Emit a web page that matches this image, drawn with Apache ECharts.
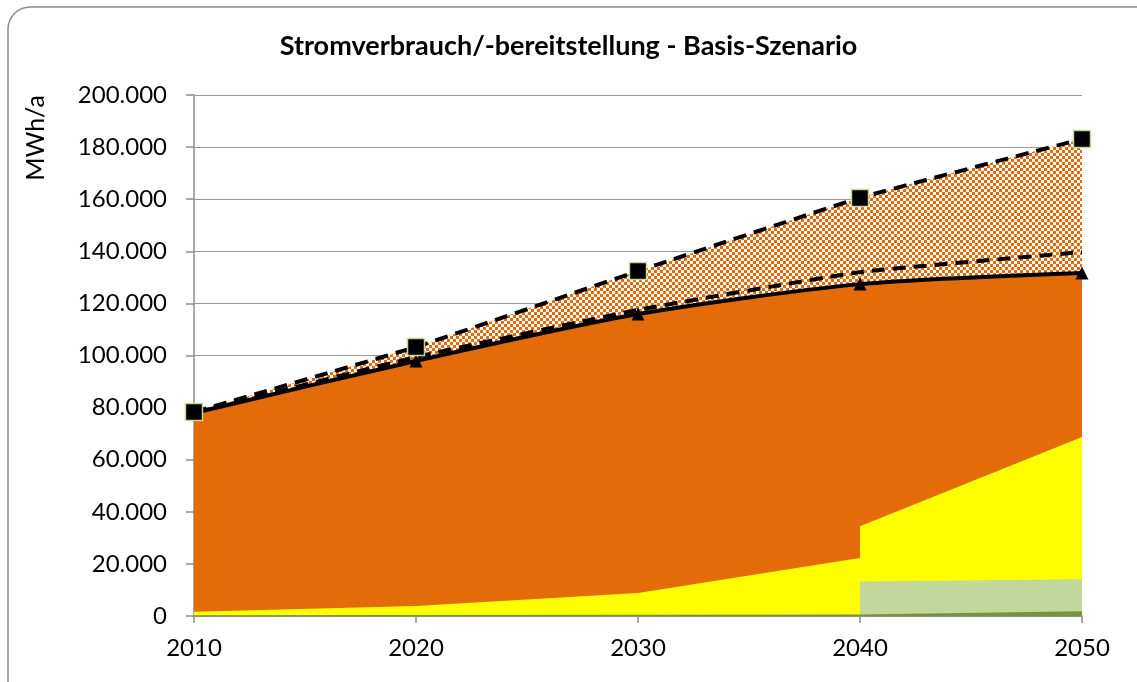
<!DOCTYPE html>
<html>
<head>
<meta charset="utf-8">
<title>Stromverbrauch/-bereitstellung - Basis-Szenario</title>
<script src="https://cdn.jsdelivr.net/npm/echarts@6/dist/echarts.min.js"></script>
<style>
  html, body { margin: 0; padding: 0; background: #fff; }
  #chart { width: 1137px; height: 682px; }
</style>
</head>
<body>
<div id="chart"></div>
<script>
// Years for the stacked sources (2040 appears twice because of the step)
const sourceYears = [2010, 2020, 2030, 2040, 2040, 2050]
const darkGreen = [300, 400, 500, 600, 600, 1800]
const lightGreen = [null, null, null, 0, 12600, 12300]
const yellow = [1300, 3400, 8300, 21700, 21300, 54600]

// Lines
const lineYears = [2010, 2020, 2030, 2040, 2050]
const demandSolid = [77900, 97900, 115900, 127400, 131700]
const demandDashed = [78000, 99400, 117500, 132000, 139700]
const demandUpper = [78300, 103300, 132400, 160500, 183100]

const yTicks = [0, 20000, 40000, 60000, 80000, 100000, 120000, 140000, 160000, 180000, 200000]

const ORANGE = '#e36c09'
const FONT = 'Lato'

// cumulative tops for the bottom areas
const darkTop = darkGreen.slice()
const lightTop = lightGreen.map((v, i) => darkGreen[i] + (v || 0))
const yellowTop = yellow.map((v, i) => lightTop[i] + v)

function pairs(xs, ys) {
  return xs.map((x, i) => [x, ys[i]])
}

// checker pattern for the upper band
function makePattern() {
  const c = document.createElement('canvas')
  c.width = 6
  c.height = 6
  const ctx = c.getContext('2d')
  ctx.fillStyle = '#ffffff'
  ctx.fillRect(0, 0, 6, 6)
  ctx.fillStyle = ORANGE
  ctx.fillRect(0, 0, 3, 3)
  ctx.fillRect(3, 3, 3, 3)
  return c
}

function fmtThousands(v) {
  return String(v).replace(/\B(?=(\d{3})+(?!\d))/g, '.')
}

const chart = echarts.init(document.getElementById('chart'))

const areaBase = {
  type: 'line',
  symbol: 'none',
  lineStyle: { width: 0 },
  silent: true,
  z: 1
}

const option = {
  animation: false,
  backgroundColor: '#fff',
  title: {
    text: 'Stromverbrauch/-bereitstellung - Basis-Szenario',
    left: 'center',
    top: 28,
    textStyle: { fontFamily: FONT, fontSize: 27, fontWeight: 'bold', color: '#000' }
  },
  graphic: [
    {
      type: 'rect',
      shape: { x: 8, y: 7, width: 1160, height: 700, r: 22 },
      style: { fill: 'none', stroke: '#8c8c8c', lineWidth: 1.5 },
      z: -10
    },
    {
      type: 'text',
      x: 36,
      y: 138,
      rotation: Math.PI / 2,
      style: {
        text: 'MWh/a',
        fontFamily: FONT,
        fontSize: 25,
        fill: '#000',
        textAlign: 'center',
        textVerticalAlign: 'middle'
      }
    }
  ],
  grid: { left: 194, right: 55, top: 95, bottom: 66 },
  xAxis: {
    type: 'value',
    min: 2010,
    max: 2050,
    interval: 10,
    axisLine: { lineStyle: { color: '#8c8c8c', width: 1.5 } },
    axisTick: { show: true, length: 7, lineStyle: { color: '#8c8c8c', width: 1.5 } },
    splitLine: { show: false },
    axisLabel: {
      margin: 20,
      fontFamily: FONT,
      fontSize: 24,
      color: '#000',
      formatter: v => String(v)
    }
  },
  yAxis: {
    type: 'value',
    min: yTicks[0],
    max: yTicks[yTicks.length - 1],
    interval: 20000,
    axisLine: { show: true, lineStyle: { color: '#8c8c8c', width: 1.5 } },
    axisTick: { show: true, length: 8, lineStyle: { color: '#8c8c8c', width: 1.5 } },
    splitLine: { show: true, lineStyle: { color: '#999', width: 1.2 } },
    axisLabel: {
      margin: 27,
      fontFamily: FONT,
      fontSize: 24,
      color: '#000',
      formatter: v => fmtThousands(v)
    }
  },
  series: [
    // hatched band up to the upper scenario line
    {
      ...areaBase,
      name: 'Bedarf oben',
      smooth: 0.12,
      data: pairs(lineYears, demandUpper),
      areaStyle: { color: { image: makePattern(), repeat: 'repeat' }, opacity: 1 }
    },
    // orange consumption area
    {
      ...areaBase,
      name: 'Verbrauch',
      smooth: 0.25,
      data: pairs(lineYears, demandSolid),
      areaStyle: { color: ORANGE, opacity: 1 }
    },
    {
      ...areaBase,
      name: 'Gelb',
      data: pairs(sourceYears, yellowTop),
      areaStyle: { color: '#ffff00', opacity: 1 }
    },
    {
      ...areaBase,
      name: 'Hellgruen',
      connectNulls: false,
      data: pairs(sourceYears, lightTop.map((v, i) => lightGreen[i] === null ? null : v)),
      areaStyle: { color: '#c3d69b', opacity: 1 }
    },
    {
      ...areaBase,
      name: 'Dunkelgruen',
      data: pairs(sourceYears, darkTop),
      areaStyle: { color: '#77933c', opacity: 1 }
    },
    // lines
    {
      type: 'line',
      name: 'Verbrauch Linie',
      smooth: 0.25,
      z: 5,
      data: pairs(lineYears, demandSolid),
      symbol: 'triangle',
      symbolSize: 13,
      itemStyle: { color: '#000' },
      lineStyle: { color: '#000', width: 4 }
    },
    {
      type: 'line',
      name: 'Bedarf Mitte',
      smooth: 0.12,
      z: 6,
      data: pairs(lineYears, demandDashed),
      symbol: 'none',
      lineStyle: { color: '#000', width: 4, type: [13, 8] }
    },
    {
      type: 'line',
      name: 'Bedarf oben Linie',
      smooth: 0.12,
      z: 7,
      data: pairs(lineYears, demandUpper),
      symbol: 'rect',
      symbolSize: 17,
      itemStyle: { color: '#000', borderColor: '#c3d69b', borderWidth: 1.5 },
      lineStyle: { color: '#000', width: 4, type: [13, 8] }
    }
  ]
}

chart.setOption(option)
</script>
</body>
</html>
